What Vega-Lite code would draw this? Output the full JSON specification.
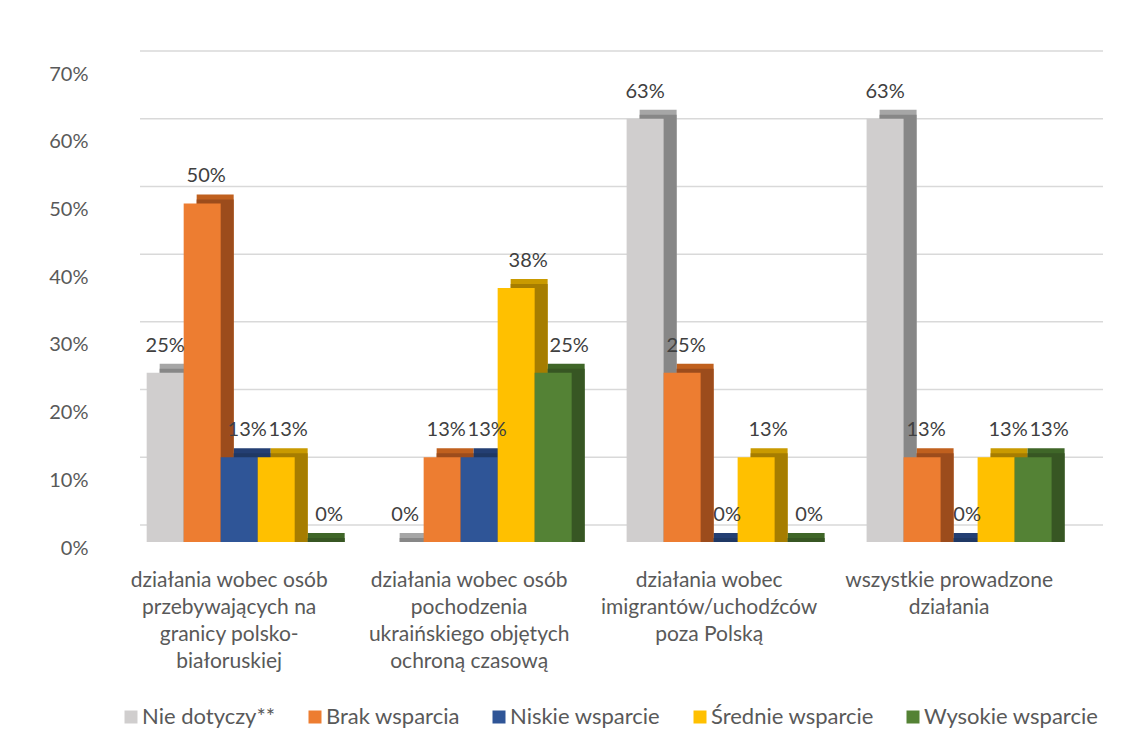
{
  "$schema": "https://vega.github.io/schema/vega-lite/v6.json",
  "width": 963,
  "height": 474,
  "autosize": {"type": "none"},
  "padding": {"left": 140, "top": 68, "right": 39, "bottom": 209},
  "background": "white",
  "config": {
    "font": "Lato",
    "view": {"stroke": null}
  },
  "datasets": {
    "wyniki": [
      {"obszar": "działania wobec osób przebywających na granicy polsko-białoruskiej", "seria": "Nie dotyczy**", "udzial": 0.25},
      {"obszar": "działania wobec osób przebywających na granicy polsko-białoruskiej", "seria": "Brak wsparcia", "udzial": 0.5},
      {"obszar": "działania wobec osób przebywających na granicy polsko-białoruskiej", "seria": "Niskie wsparcie", "udzial": 0.125},
      {"obszar": "działania wobec osób przebywających na granicy polsko-białoruskiej", "seria": "Średnie wsparcie", "udzial": 0.125},
      {"obszar": "działania wobec osób przebywających na granicy polsko-białoruskiej", "seria": "Wysokie wsparcie", "udzial": 0},
      {"obszar": "działania wobec osób pochodzenia ukraińskiego objętych ochroną czasową", "seria": "Nie dotyczy**", "udzial": 0},
      {"obszar": "działania wobec osób pochodzenia ukraińskiego objętych ochroną czasową", "seria": "Brak wsparcia", "udzial": 0.125},
      {"obszar": "działania wobec osób pochodzenia ukraińskiego objętych ochroną czasową", "seria": "Niskie wsparcie", "udzial": 0.125},
      {"obszar": "działania wobec osób pochodzenia ukraińskiego objętych ochroną czasową", "seria": "Średnie wsparcie", "udzial": 0.375},
      {"obszar": "działania wobec osób pochodzenia ukraińskiego objętych ochroną czasową", "seria": "Wysokie wsparcie", "udzial": 0.25},
      {"obszar": "działania wobec imigrantów/uchodźców poza Polską", "seria": "Nie dotyczy**", "udzial": 0.625},
      {"obszar": "działania wobec imigrantów/uchodźców poza Polską", "seria": "Brak wsparcia", "udzial": 0.25},
      {"obszar": "działania wobec imigrantów/uchodźców poza Polską", "seria": "Niskie wsparcie", "udzial": 0},
      {"obszar": "działania wobec imigrantów/uchodźców poza Polską", "seria": "Średnie wsparcie", "udzial": 0.125},
      {"obszar": "działania wobec imigrantów/uchodźców poza Polską", "seria": "Wysokie wsparcie", "udzial": 0},
      {"obszar": "wszystkie prowadzone działania", "seria": "Nie dotyczy**", "udzial": 0.625},
      {"obszar": "wszystkie prowadzone działania", "seria": "Brak wsparcia", "udzial": 0.125},
      {"obszar": "wszystkie prowadzone działania", "seria": "Niskie wsparcie", "udzial": 0},
      {"obszar": "wszystkie prowadzone działania", "seria": "Średnie wsparcie", "udzial": 0.125},
      {"obszar": "wszystkie prowadzone działania", "seria": "Wysokie wsparcie", "udzial": 0.125}
    ],
    "siatka": [
      {"poziom": 0}, {"poziom": 0.1}, {"poziom": 0.2}, {"poziom": 0.3},
      {"poziom": 0.4}, {"poziom": 0.5}, {"poziom": 0.6}, {"poziom": 0.7}
    ]
  },
  "resolve": {"scale": {"color": "independent"}},
  "layer": [
    {
      "data": {"name": "siatka"},
      "mark": {"type": "rule", "color": "#d9d9d9", "strokeWidth": 1.5, "yOffset": -17},
      "encoding": {
        "y": {
          "field": "poziom", "type": "quantitative", "title": null,
          "scale": {"domain": [0, 0.7], "nice": false, "zero": true},
          "axis": {
            "format": ".0%", "values": [0, 0.1, 0.2, 0.3, 0.4, 0.5, 0.6, 0.7],
            "grid": false, "domain": false, "ticks": false,
            "labelPadding": 52, "labelOffset": 6,
            "labelFontSize": 20, "labelColor": "#595959", "labelFont": "Lato"
          }
        }
      }
    },
    {
      "data": {"name": "wyniki"},
      "resolve": {"scale": {"color": "independent", "xOffset": "independent"}},
      "layer": [
        {
          "mark": {"type": "bar", "yOffset": -9, "y2Offset": 0},
          "encoding": {
            "xOffset": {
              "field": "seria", "type": "nominal",
              "sort": ["Nie dotyczy**", "Brak wsparcia", "Niskie wsparcie", "Średnie wsparcie", "Wysokie wsparcie"],
              "scale": {"type": "band", "paddingInner": 0, "paddingOuter": 0, "range": [13, 198]}
            },
            "y2": {"datum": 0},
            "color": {
              "field": "seria", "type": "nominal", "legend": null,
              "scale": {
                "domain": ["Nie dotyczy**", "Brak wsparcia", "Niskie wsparcie", "Średnie wsparcie", "Wysokie wsparcie"],
                "range": ["#a6a6a6", "#c0601e", "#243f73", "#c99a00", "#3f6628"]
              }
            }
          }
        },
        {
          "mark": {"type": "bar", "yOffset": -4, "y2Offset": 0},
          "encoding": {
            "xOffset": {
              "field": "seria", "type": "nominal",
              "sort": ["Nie dotyczy**", "Brak wsparcia", "Niskie wsparcie", "Średnie wsparcie", "Wysokie wsparcie"],
              "scale": {"type": "band", "paddingInner": 0, "paddingOuter": 0, "range": [13, 198]}
            },
            "y2": {"datum": 0},
            "color": {
              "field": "seria", "type": "nominal", "legend": null,
              "scale": {
                "domain": ["Nie dotyczy**", "Brak wsparcia", "Niskie wsparcie", "Średnie wsparcie", "Wysokie wsparcie"],
                "range": ["#878787", "#9c4c1c", "#1f3864", "#a67d00", "#375623"]
              }
            }
          }
        },
        {
          "mark": {"type": "bar"},
          "encoding": {
            "xOffset": {
              "field": "seria", "type": "nominal",
              "sort": ["Nie dotyczy**", "Brak wsparcia", "Niskie wsparcie", "Średnie wsparcie", "Wysokie wsparcie"],
              "scale": {"type": "band", "paddingInner": 0, "paddingOuter": 0}
            },
            "color": {
              "field": "seria", "type": "nominal",
              "scale": {
                "domain": ["Nie dotyczy**", "Brak wsparcia", "Niskie wsparcie", "Średnie wsparcie", "Wysokie wsparcie"],
                "range": ["#d0cece", "#ed7d31", "#2f5597", "#ffc000", "#548235"]
              },
              "legend": {
                "title": null, "orient": "none", "direction": "horizontal", "columns": 5,
                "legendX": -20, "legendY": 638,
                "symbolType": "square", "symbolSize": 169, "symbolStrokeWidth": 0,
                "labelFontSize": 22, "labelColor": "#595959", "labelFont": "Lato",
                "labelLimit": 260, "labelOffset": 0, "columnPadding": 28
              }
            }
          }
        },
        {
          "mark": {"type": "text", "dy": -27, "fontSize": 20, "color": "#404040", "baseline": "middle", "align": "center"},
          "encoding": {
            "xOffset": {
              "field": "seria", "type": "nominal", "bandPosition": 0.5,
              "sort": ["Nie dotyczy**", "Brak wsparcia", "Niskie wsparcie", "Średnie wsparcie", "Wysokie wsparcie"],
              "scale": {"type": "band", "paddingInner": 0, "paddingOuter": 0, "range": [-2, 203]}
            },
            "text": {"field": "udzial", "type": "quantitative", "format": ".0%"}
          }
        }
      ],
      "encoding": {
        "x": {
          "field": "obszar", "type": "nominal", "sort": null, "title": null,
          "scale": {"paddingInner": 0.229, "paddingOuter": 0.121, "align": 0.115},
          "axis": {
            "labelAngle": 0, "domain": false, "ticks": false,
            "labelPadding": 27, "labelOffset": -10, "labelLimit": 300,
            "labelFontSize": 21, "labelColor": "#595959", "labelFont": "Lato",
            "labelLineHeight": 27,
            "labelExpr": "datum.value == 'działania wobec osób przebywających na granicy polsko-białoruskiej' ? ['działania wobec osób', 'przebywających na', 'granicy polsko-', 'białoruskiej'] : datum.value == 'działania wobec osób pochodzenia ukraińskiego objętych ochroną czasową' ? ['działania wobec osób', 'pochodzenia', 'ukraińskiego objętych', 'ochroną czasową'] : datum.value == 'działania wobec imigrantów/uchodźców poza Polską' ? ['działania wobec', 'imigrantów/uchodźców', 'poza Polską'] : ['wszystkie prowadzone', 'działania']"
          }
        },
        "y": {
          "field": "udzial", "type": "quantitative", "title": null,
          "scale": {"domain": [0, 0.7], "nice": false}
        }
      }
    }
  ]
}
